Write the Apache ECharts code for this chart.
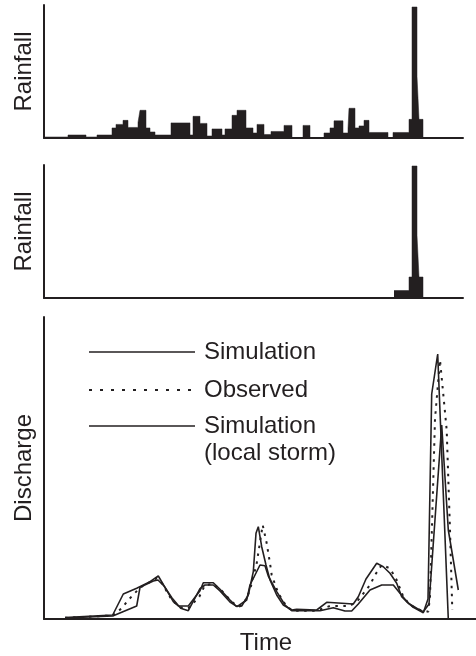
<!DOCTYPE html>
<html>
<head>
<meta charset="utf-8">
<script src="https://cdn.jsdelivr.net/npm/echarts@6/dist/echarts.min.js"></script>
<style>
  html, body { margin: 0; padding: 0; background: #fff; }
  #chart { width: 476px; height: 656px; }
</style>
</head>
<body>
<div id="chart"></div>
<script>
// time axis in arbitrary units (0 = start of record)
const rainEdges = [0, 24, 42, 53, 68, 72, 79, 84, 94, 96, 102, 106, 111, 127, 146, 149, 156, 163, 168, 178,
  181, 188, 193, 202, 209, 213, 220, 227, 240, 248, 259, 266, 280, 286, 290, 299, 304, 305, 311, 315,
  320, 325, 344, 349, 365, 368, 373, 375, 379];
const rainValues = [1, 3, 1, 3, 10, 13.5, 17.5, 10.5, 15.5, 27.5, 10, 6, 3, 15, 3, 21.5, 14.5, 2, 9, 3,
  9, 22.5, 27.5, 10, 5, 13.5, 3.5, 6.5, 12.5, 0.5, 12.5, 0.5, 5, 10, 17, 5, 9.5, 29.5, 10, 12,
  17.5, 5.5, 0, 5.5, 18.5, 130, 61, 18.5];

const stormEdges = [350, 365, 368, 373, 375, 379];
const stormValues = [7.5, 21, 132, 62.5, 21];

// discharge hydrographs as [time, discharge]
const simulation = [[21, 1.5], [68.7, 4], [79.3, 25], [92.7, 30.7], [106, 37.3], [114.3, 43], [121, 31.7],
  [129.3, 17.3], [134.3, 13], [144.3, 13], [156, 28.3], [159.3, 36.3], [169.3, 36.3], [176, 29.7], [186, 19],
  [192, 13], [197.7, 13], [204.3, 24], [209.3, 47.3], [212, 85.7], [214.3, 92.3], [217.7, 72.3], [222, 54],
  [226, 39], [232.7, 24], [239.3, 14], [247.7, 9], [252.7, 9.7], [272.7, 9], [282.7, 16.7], [309.3, 15],
  [314.3, 22.3], [322, 40], [332.7, 55.7], [339.3, 52.3], [346, 45.7], [352.7, 35.7], [357.7, 22.3],
  [362.7, 17.3], [369.3, 11.7], [379.3, 6.3], [384, 20], [387.7, 225], [393.7, 265], [404.3, 0]];
const observed = [[21, 1.2], [68.7, 3.5], [77.7, 10.7], [84.3, 19], [96, 31.3], [112.7, 40.7], [117.7, 36.3],
  [127.7, 19], [136, 11.7], [144.3, 10.7], [155.3, 22.3], [161, 34], [169.3, 35], [177.7, 28.3], [187.7, 17.3],
  [194.3, 12.3], [199.3, 14], [206, 29], [212.7, 55.7], [218.7, 94], [222.7, 75.7], [226, 55.7], [227.7, 44],
  [234.3, 25.7], [242.7, 12.3], [249.3, 8.3], [272.7, 8.3], [286, 13], [306, 13], [314.3, 19], [326, 34],
  [331, 44], [337.7, 54], [346, 50.7], [352.7, 39], [359.3, 22.3], [366, 14], [376, 9], [384.3, 7.3],
  [386, 22.3], [391, 200], [396, 259], [402.7, 189], [406, 89], [408.3, 9]];
const simLocal = [[21, 1], [68.7, 3], [92.7, 13], [96, 31.7], [109.3, 38], [114, 39], [120, 33], [128, 21],
  [136.7, 10.7], [144.3, 8.3], [156, 30.3], [161, 34], [169.3, 34], [176, 28], [186, 17], [193, 12.3],
  [202.7, 19], [206, 34], [216, 54], [221, 53.3], [224.3, 43], [232.7, 27.3], [241, 14], [247.7, 8.3],
  [276, 8.3], [289.3, 11.3], [301, 8], [307.7, 8], [314.3, 15], [326, 29], [337.7, 34], [349.3, 34],
  [356, 25.7], [364.3, 15.7], [372.7, 10.7], [379.3, 7.3], [385, 15], [397.7, 194], [404.3, 89], [414.3, 29]];

const ink = '#231f20';
const font = 'Liberation Sans, Arial, sans-serif';

function stepData(edges, values) {
  const d = values.map((v, i) => [edges[i], v]);
  d.push([edges[edges.length - 1], 0]);
  return d;
}

function xAxis(i, max, extra) {
  return Object.assign({
    type: 'value', gridIndex: i, min: 0, max: max,
    axisLine: { show: true, lineStyle: { color: ink, width: 2 } },
    axisTick: { show: false }, axisLabel: { show: false }, splitLine: { show: false }
  }, extra || {});
}

function yAxis(i, max, name) {
  return {
    type: 'value', gridIndex: i, min: 0, max: max,
    name: name, nameLocation: 'middle', nameGap: 8, nameRotate: 90,
    nameTextStyle: { color: ink, fontSize: 24, fontFamily: font },
    axisLine: { show: true, lineStyle: { color: ink, width: 2 } },
    axisTick: { show: false }, axisLabel: { show: false }, splitLine: { show: false }
  };
}

const chart = echarts.init(document.getElementById('chart'));
chart.setOption({
  animation: false,
  backgroundColor: '#fff',
  grid: [
    { left: 44, top: 5, width: 419, height: 133 },
    { left: 44, top: 165, width: 419, height: 133 },
    { left: 44, top: 317, width: 432, height: 302 }
  ],
  xAxis: [
    xAxis(0, 419),
    xAxis(1, 419),
    xAxis(2, 432, {
      name: 'Time', nameLocation: 'middle', nameGap: 12,
      nameTextStyle: { color: ink, fontSize: 24, fontFamily: font, padding: [0, 0, 0, 12] }
    })
  ],
  yAxis: [yAxis(0, 132, 'Rainfall'), yAxis(1, 133, 'Rainfall'), yAxis(2, 302, 'Discharge')],
  series: [
    { type: 'line', xAxisIndex: 0, yAxisIndex: 0, step: 'end', symbol: 'none',
      data: stepData(rainEdges, rainValues),
      lineStyle: { color: ink, width: 0.5 }, areaStyle: { color: ink, opacity: 1 } },
    { type: 'line', xAxisIndex: 1, yAxisIndex: 1, step: 'end', symbol: 'none',
      data: stepData(stormEdges, stormValues),
      lineStyle: { color: ink, width: 0.5 }, areaStyle: { color: ink, opacity: 1 } },
    { name: 'Simulation', type: 'line', xAxisIndex: 2, yAxisIndex: 2, symbol: 'none',
      data: simulation, lineStyle: { color: ink, width: 1.6 } },
    { name: 'Observed', type: 'line', xAxisIndex: 2, yAxisIndex: 2, symbol: 'none',
      data: observed, lineStyle: { color: ink, width: 2, type: [2.5, 5.5] } },
    { name: 'Simulation (local storm)', type: 'line', xAxisIndex: 2, yAxisIndex: 2, symbol: 'none',
      data: simLocal, lineStyle: { color: ink, width: 1.6 } }
  ],
  graphic: [
    { type: 'line', shape: { x1: 89, y1: 352, x2: 195, y2: 352 }, style: { stroke: ink, lineWidth: 1.6 } },
    { type: 'text', x: 204, y: 352, style: { text: 'Simulation', fill: ink, font: '24px ' + font, verticalAlign: 'middle' } },
    { type: 'line', shape: { x1: 89, y1: 390, x2: 195, y2: 390 }, style: { stroke: ink, lineWidth: 2, lineDash: [3, 8] } },
    { type: 'text', x: 204, y: 390, style: { text: 'Observed', fill: ink, font: '24px ' + font, verticalAlign: 'middle' } },
    { type: 'line', shape: { x1: 89, y1: 426, x2: 195, y2: 426 }, style: { stroke: ink, lineWidth: 1.6 } },
    { type: 'text', x: 204, y: 426, style: { text: 'Simulation', fill: ink, font: '24px ' + font, verticalAlign: 'middle' } },
    { type: 'text', x: 204, y: 453, style: { text: '(local storm)', fill: ink, font: '24px ' + font, verticalAlign: 'middle' } }
  ]
});
</script>
</body>
</html>
